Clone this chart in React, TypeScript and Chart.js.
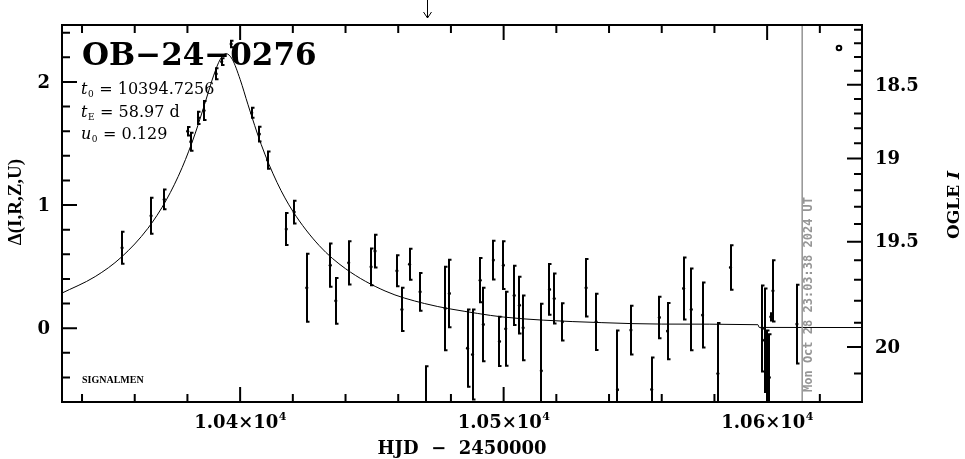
import React, { useEffect, useRef } from "react";
import { Chart, registerables } from "chart.js";

Chart.register(...registerables);

// ---------- texts ----------
const eventName = "OB−24−0276";
const paramSymbols = ["t", "t", "u"];
const paramSubs = ["0", "E", "0"];
const paramValues = [" = 10394.7256", " = 58.97 d", " = 0.129"];
const creditText = "SIGNALMEN";
const dateStamp = "Mon Oct 28 23:03:38 2024 UT";
const xTitle = "HJD  −  2450000";
const yTitle = "Δ(I,R,Z,U)";
const y2TitleMain = "OGLE ";
const y2TitleItalic = "I";

// ---------- observations (HJD-2450000, Δ mag, error) ----------
const obsTime = [
  10355.2, 10366.2, 10371.2, 10380.1, 10381.3, 10384.2, 10386.3, 10390.9, 10393.0, 10396.6,
  10404.4, 10407.3, 10410.4, 10417.5, 10420.5, 10425.3, 10434.2, 10436.3, 10441.2, 10449.7,
  10451.2, 10459.5, 10461.4, 10464.3, 10468.3, 10470.6, 10477.8, 10479.4, 10486.3, 10488.2,
  10491.1, 10492.3, 10496.1, 10498.4, 10499.9, 10500.8, 10504.0, 10506.0, 10507.4, 10514.3,
  10517.4, 10519.2, 10522.3, 10531.3, 10535.1, 10543.2, 10548.3, 10556.2, 10559.1, 10562.2,
  10568.3, 10571.2, 10575.5, 10581.3, 10586.1, 10598.2, 10599.0, 10600.1, 10600.8, 10601.4,
  10602.2, 10611.3,
];
const obsDelta = [
  0.653, 0.913, 1.046, 1.6, 1.515, 1.709, 1.768, 2.067, 2.165, 2.309,
  1.75, 1.577, 1.366, 0.805, 0.943, 0.328, 0.512, 0.222, 0.531, 0.498,
  0.626, 0.466, 0.152, 0.52, 0.295, -0.63, 0.16, 0.282, -0.163, -0.214,
  0.39, 0.03, 0.553, -0.108, 0.512, -0.005, 0.266, 0.187, 0.003, -0.347,
  0.315, 0.241, 0.051, 0.328, 0.051, -0.5, -0.016, -0.498, 0.087, -0.024,
  0.323, 0.152, 0.106, -0.369, 0.493, -0.003, -0.098, -0.32, -0.4, 0.092,
  0.303, 0.033,
];
const obsErr = [
  0.13, 0.146, 0.08, 0.034, 0.073, 0.05, 0.077, 0.045, 0.027, 0.027,
  0.04, 0.06, 0.07, 0.13, 0.092, 0.276, 0.176, 0.186, 0.176, 0.149,
  0.133, 0.126, 0.176, 0.126, 0.153, 0.32, 0.339, 0.274, 0.314, 0.366,
  0.179, 0.298, 0.157, 0.2, 0.194, 0.3, 0.241, 0.23, 0.263, 0.545,
  0.207, 0.203, 0.152, 0.233, 0.228, 0.48, 0.198, 0.26, 0.169, 0.228,
  0.252, 0.332, 0.264, 0.41, 0.18, 0.35, 0.42, 0.3, 0.35, 0.03,
  0.248, 0.32,
];

// ---------- model curve ----------
const modelTime = [
  10332, 10345, 10355, 10365, 10372, 10378, 10383, 10387, 10390, 10392.5,
  10394.7, 10397, 10400, 10403, 10408, 10414, 10420, 10430, 10440, 10455,
  10470, 10490, 10500, 10515, 10537, 10560, 10596.5, 10597, 10636,
];
const modelDelta = [
  0.281, 0.419, 0.578, 0.811, 1.042, 1.305, 1.585, 1.852, 2.056, 2.186,
  2.23, 2.185, 2.021, 1.815, 1.492, 1.184, 0.95, 0.671, 0.483, 0.302,
  0.2, 0.12, 0.09, 0.065, 0.045, 0.033, 0.028, 0.006, 0.005,
];

// ---------- axes ----------
const xMin = 10332.4;
const xMax = 10636;
const yMin = -0.6;
const yMax = 2.463;
const xMajorStep = 100;
const xMinorStep = 20;
const xMajorMantissa: Record<number, string> = { 10400: "1.04", 10500: "1.05", 10600: "1.06" };
const xExponent = "4";
const yMinorStep = 0.2;
const yMajorLabels: Record<number, string> = { 0: "0", 1: "1", 2: "2" };
const magMinorTicks = [18.0, 18.1, 18.2, 18.3, 18.4, 18.5, 18.6, 18.7, 18.8, 18.9, 19.0, 19.1, 19.2, 19.3, 19.4, 19.5, 19.6, 19.7, 19.8, 19.9, 20.0, 20.1, 20.2, 20.3];
const magMajorLabels: Record<string, string> = { "18.5": "18.5", "19.0": "19", "19.5": "19.5", "20.0": "20" };
const magRef = 20;
const magScale = 1.78;
const magBlend = 0.512;
const dateLineTime = 10613.3;
const arrowTime = 10471;

const magToDelta = (m: number) =>
  2.5 * Math.log10(magScale * (Math.pow(10, -0.4 * (m - magRef)) - magBlend));

const tickFont = "bold 18px 'DejaVu Serif'";

export default function App() {
  const canvasRef = useRef<HTMLCanvasElement>(null);

  useEffect(() => {
    const canvas = canvasRef.current;
    if (!canvas) return;

    const overlay = {
      id: "pgplotOverlay",
      afterDatasetsDraw(chart: any) {
        const { ctx, chartArea: a, scales } = chart;
        const xs = scales.x;
        const ys = scales.y;
        ctx.save();
        ctx.beginPath();
        ctx.rect(a.left, a.top, a.right - a.left, a.bottom - a.top);
        ctx.clip();
        ctx.strokeStyle = "#000";
        ctx.lineWidth = 2;
        ctx.beginPath();
        for (let i = 0; i < obsTime.length; i++) {
          const px = Math.round(xs.getPixelForValue(obsTime[i]));
          const y1 = ys.getPixelForValue(obsDelta[i] - obsErr[i]);
          const y2 = ys.getPixelForValue(obsDelta[i] + obsErr[i]);
          ctx.moveTo(px, y1);
          ctx.lineTo(px, y2);
          ctx.moveTo(px - 1, y1);
          ctx.lineTo(px + 2.5, y1);
          ctx.moveTo(px - 1, y2);
          ctx.lineTo(px + 2.5, y2);
        }
        ctx.stroke();
        ctx.restore();
      },
      afterDraw(chart: any) {
        const { ctx, chartArea: a, scales } = chart;
        const xs = scales.x;
        const ys = scales.y;
        ctx.save();

        // date line
        const lx = xs.getPixelForValue(dateLineTime);
        ctx.strokeStyle = "#939393";
        ctx.lineWidth = 1.5;
        ctx.beginPath();
        ctx.moveTo(lx, a.top);
        ctx.lineTo(lx, a.bottom);
        ctx.stroke();

        // frame
        ctx.strokeStyle = "#000";
        ctx.lineWidth = 2;
        ctx.strokeRect(a.left, a.top, a.right - a.left, a.bottom - a.top);

        const majorLen = 15;
        const minorLen = 8;
        ctx.beginPath();
        // x ticks (bottom and top)
        for (let k = Math.ceil(xMin / xMinorStep); k * xMinorStep <= xMax; k++) {
          const v = k * xMinorStep;
          const px = xs.getPixelForValue(v);
          const len = v % xMajorStep === 0 ? majorLen : minorLen;
          ctx.moveTo(px, a.bottom);
          ctx.lineTo(px, a.bottom - len);
          ctx.moveTo(px, a.top);
          ctx.lineTo(px, a.top + len);
        }
        // left y ticks
        for (let k = Math.ceil(yMin / yMinorStep - 1e-6); k * yMinorStep <= yMax; k++) {
          const v = k * yMinorStep;
          if (v <= yMin + 1e-6) continue;
          const py = ys.getPixelForValue(v);
          const len = k % 5 === 0 ? majorLen : minorLen;
          ctx.moveTo(a.left, py);
          ctx.lineTo(a.left + len, py);
        }
        // right magnitude ticks
        for (const m of magMinorTicks) {
          const d = magToDelta(m);
          if (!(d > yMin && d < yMax)) continue;
          const py = ys.getPixelForValue(d);
          const len = magMajorLabels[m.toFixed(1)] ? majorLen : minorLen;
          ctx.moveTo(a.right, py);
          ctx.lineTo(a.right - len, py);
        }
        ctx.stroke();

        ctx.fillStyle = "#000";
        // left labels
        ctx.font = tickFont;
        ctx.textBaseline = "middle";
        ctx.textAlign = "right";
        Object.keys(yMajorLabels).forEach((key) => {
          const v = Number(key);
          ctx.fillText(yMajorLabels[v], a.left - 12, ys.getPixelForValue(v) + 1);
        });
        // right labels
        ctx.textAlign = "left";
        for (const m of magMinorTicks) {
          const lab = magMajorLabels[m.toFixed(1)];
          if (!lab) continue;
          ctx.fillText(lab, a.right + 13, ys.getPixelForValue(magToDelta(m)) + 1);
        }
        // bottom labels with superscripts
        ctx.textBaseline = "alphabetic";
        Object.keys(xMajorMantissa).forEach((key) => {
          const v = Number(key);
          const main = xMajorMantissa[v] + "×10";
          ctx.font = tickFont;
          const wm = ctx.measureText(main).width;
          ctx.font = "bold 11px 'DejaVu Serif'";
          const ws = ctx.measureText(xExponent).width;
          const start = xs.getPixelForValue(v) - (wm + ws) / 2;
          ctx.font = tickFont;
          ctx.textAlign = "left";
          ctx.fillText(main, start, a.bottom + 26);
          ctx.font = "bold 11px 'DejaVu Serif'";
          ctx.fillText(xExponent, start + wm + 0.5, a.bottom + 18);
        });
        // axis titles
        ctx.font = tickFont;
        ctx.textAlign = "center";
        ctx.fillText(xTitle, (a.left + a.right) / 2, a.bottom + 52);

        ctx.save();
        ctx.translate(16, 202);
        ctx.rotate(-Math.PI / 2);
        ctx.font = "bold 19px 'Liberation Serif'";
        ctx.textBaseline = "middle";
        ctx.textAlign = "center";
        ctx.fillText(yTitle, 0, 0);
        ctx.restore();

        ctx.save();
        ctx.translate(955, 205);
        ctx.rotate(-Math.PI / 2);
        ctx.textBaseline = "middle";
        ctx.font = "bold 17px 'DejaVu Serif'";
        const w1 = ctx.measureText(y2TitleMain).width;
        ctx.font = "italic bold 17px 'DejaVu Serif'";
        const w2 = ctx.measureText(y2TitleItalic).width;
        ctx.textAlign = "left";
        ctx.font = "bold 17px 'DejaVu Serif'";
        ctx.fillText(y2TitleMain, -(w1 + w2) / 2, 0);
        ctx.font = "italic bold 17px 'DejaVu Serif'";
        ctx.fillText(y2TitleItalic, -(w1 + w2) / 2 + w1, 0);
        ctx.restore();

        // title and fit parameters
        ctx.textAlign = "left";
        ctx.textBaseline = "alphabetic";
        ctx.font = "bold 31px 'DejaVu Serif'";
        ctx.fillText(eventName, a.left + 20, a.top + 40);
        for (let i = 0; i < paramSymbols.length; i++) {
          const bx = a.left + 19;
          const by = a.top + 69 + i * 22.5;
          ctx.font = "italic 16px 'DejaVu Serif'";
          ctx.fillText(paramSymbols[i], bx, by);
          let w = ctx.measureText(paramSymbols[i]).width;
          ctx.font = "9px 'DejaVu Serif'";
          ctx.fillText(paramSubs[i], bx + w + 0.5, by + 3);
          w += ctx.measureText(paramSubs[i]).width + 1;
          ctx.font = "16px 'DejaVu Serif'";
          ctx.fillText(paramValues[i], bx + w, by);
        }
        ctx.font = "bold 10px 'Liberation Serif'";
        ctx.fillText(creditText, a.left + 20, a.bottom - 19);

        // date stamp
        ctx.save();
        ctx.translate(lx + 7, a.bottom - 10);
        ctx.rotate(-Math.PI / 2);
        ctx.fillStyle = "#969696";
        ctx.font = "bold 12px 'DejaVu Sans Mono'";
        ctx.textBaseline = "middle";
        ctx.textAlign = "left";
        ctx.fillText(dateStamp, 0, 0);
        ctx.restore();

        // small circle symbol
        ctx.lineWidth = 2;
        ctx.beginPath();
        ctx.arc(a.right - 23, a.top + 23, 2.3, 0, Math.PI * 2);
        ctx.stroke();

        // arrow above the frame
        const ax = Math.round(xs.getPixelForValue(arrowTime)) + 0.5;
        ctx.lineWidth = 1;
        ctx.beginPath();
        ctx.moveTo(ax, 0);
        ctx.lineTo(ax, a.top - 7);
        ctx.moveTo(ax - 4, a.top - 13);
        ctx.lineTo(ax, a.top - 7);
        ctx.lineTo(ax + 4, a.top - 13);
        ctx.stroke();

        ctx.restore();
      },
    };

    const chart = new Chart(canvas, {
      type: "line",
      data: {
        datasets: [
          {
            type: "line",
            data: modelTime.map((t, i) => ({ x: t, y: modelDelta[i] })),
            borderColor: "#000",
            borderWidth: 1,
            pointRadius: 0,
            cubicInterpolationMode: "monotone",
            fill: false,
          } as any,
          {
            type: "scatter",
            data: obsTime.map((t, i) => ({ x: t, y: obsDelta[i] })),
            pointRadius: 1.6,
            backgroundColor: "#000",
            borderWidth: 0,
            showLine: false,
          } as any,
        ],
      },
      options: {
        animation: false,
        responsive: false,
        events: [],
        layout: { padding: { left: 62, top: 25, right: 103, bottom: 57 } },
        scales: {
          x: { type: "linear", min: xMin, max: xMax, display: false },
          y: { type: "linear", min: yMin, max: yMax, display: false },
        },
        plugins: { legend: { display: false }, tooltip: { enabled: false } },
      },
      plugins: [overlay],
    });

    return () => chart.destroy();
  }, []);

  return (
    <div style={{ position: "absolute", left: 0, top: 0, width: 965, height: 459, background: "#fff" }}>
      <canvas ref={canvasRef} width={965} height={459} style={{ display: "block" }} />
    </div>
  );
}
